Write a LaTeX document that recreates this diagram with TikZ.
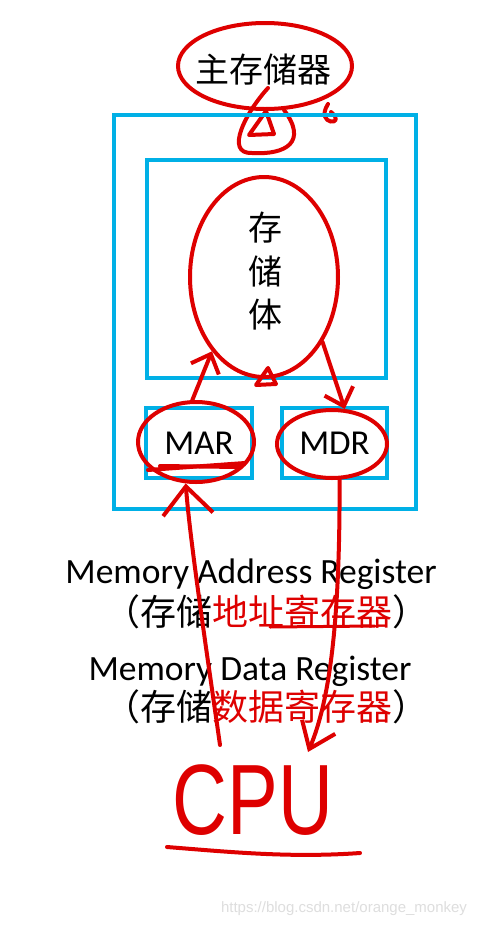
\documentclass[tikz,border=0pt]{standalone}
\usepackage{fontspec}
\setmainfont{Carlito}
\newfontfamily\cjk{Noto Sans CJK SC}
\newfontfamily\wmfont{Liberation Sans}
\usetikzlibrary{shapes.geometric,arrows.meta}
\definecolor{ink}{RGB}{222,0,0}
\definecolor{frameblue}{RGB}{0,176,230}
\tikzset{
	frame/.style={draw=frameblue, line width=3.5pt, inner sep=0pt},
	ring/.style={draw=ink, ellipse, line width=4pt, inner sep=0pt},
	stroke/.style={draw=ink, line width=4pt, line cap=round, line join=round},
	cn/.style={font=\cjk\fontsize{34}{43.5}\selectfont},
	en/.style={font=\fontsize{35.5}{35.5}\selectfont},
	cnline/.style={font=\cjk\fontsize{36}{36}\selectfont},
}
\begin{document}
\begin{tikzpicture}[x=1pt, y=-1pt]
		
		\fill[white] (0,0) rectangle (484,927);
		\useasboundingbox (0,0) rectangle (484,927);
		
		% Hauptspeicher
		\node[cn] (main) at (263.5,70) {主存储器};
		\node[ring, minimum width=174, minimum height=86] (mainring) at (265,66) {};
		\draw[stroke] (268,88) .. controls (246,112) and (224,154) .. (252,153) .. controls (286,155) and (308,142) .. (284,110);
		\draw[stroke] (249,135) -- (274,134) -- (266,111) -- cycle;
		\draw[stroke] (328,104) .. controls (314,126) and (348,126) .. (331,112);
		
		% Rahmen
		\node[frame, minimum width=302, minimum height=394] (memory) at (265,312) {};
		\node[frame, minimum width=239, minimum height=218] (bodybox) at (266.5,269) {};
		\node[frame, minimum width=106, minimum height=70, font=\fontsize{35}{35}\selectfont] (marbox) at (199,443) {MAR};
		\node[frame, minimum width=105, minimum height=70, font=\fontsize{35}{35}\selectfont] (mdrbox) at (334.5,443) {MDR};
		
		% Speicherkoerper
		\node[cn, align=center] (body) at (265,271.5) {存\\储\\体};
		\node[ring, minimum width=148, minimum height=200] (bodyring) at (264,277) {};
		\draw[stroke] (256,385) -- (276,384) -- (268,368) -- cycle;
		
		% MAR und MDR
		\node[ring, minimum width=116, minimum height=80] (marring) at (196,442) {};
		\draw[stroke] (148,470) -- (245,463);
		\draw[stroke] (160,466) -- (240,467);
		\node[ring, minimum width=110, minimum height=68] (mdrring) at (332,444) {};
		
		% Erklaerungen
		\node[en, anchor=base] (marname) at (251,583) {Memory Address Register};
		\node[cnline] (marcn) at (266,612) {（存储\textcolor{ink}{地址寄存器}）};
		\draw[stroke, line width=3pt] (270,627) -- (375,626);
		\node[en, anchor=base] (mdrname) at (250,680) {Memory Data Register};
		\node[cnline] (mdrcn) at (266,707) {（存储\textcolor{ink}{数据寄存器}）};
		
		% CPU
		\node[text=ink, font=\wmfont\fontsize{100}{100}\selectfont, xscale=0.76, inner sep=0pt] (cpu) at (253,800) {CPU};
		\draw[stroke] (167,847) .. controls (230,852) and (290,858) .. (360,853);
		\coordinate (cpuin) at (220,745);
		\coordinate (cpuout) at (308,752);
		
		% Pfeile
		\draw[stroke, -{Straight Barb[length=28pt, width=50pt]}] (cpuin) .. controls (205,640) and (190,540) .. (marring.-104);
		\draw[stroke, -{Straight Barb[length=16pt, width=30pt]}] (marring.95) -- (bodyring.-125);
		\draw[stroke, -{Straight Barb[length=16pt, width=30pt]}] (bodyring.-48) -- (mdrring.70);
		\draw[stroke, -{Straight Barb[length=24pt, width=36pt]}] (mdrring.-78) .. controls (340,620) and (330,700) .. (cpuout);
		
		% Wasserzeichen
		\node[text=black!13, font=\wmfont\fontsize{15}{15}\selectfont] (mark) at (344,909) {https://blog.csdn.net/orange\_monkey};
		
	\end{tikzpicture}
\end{document}
